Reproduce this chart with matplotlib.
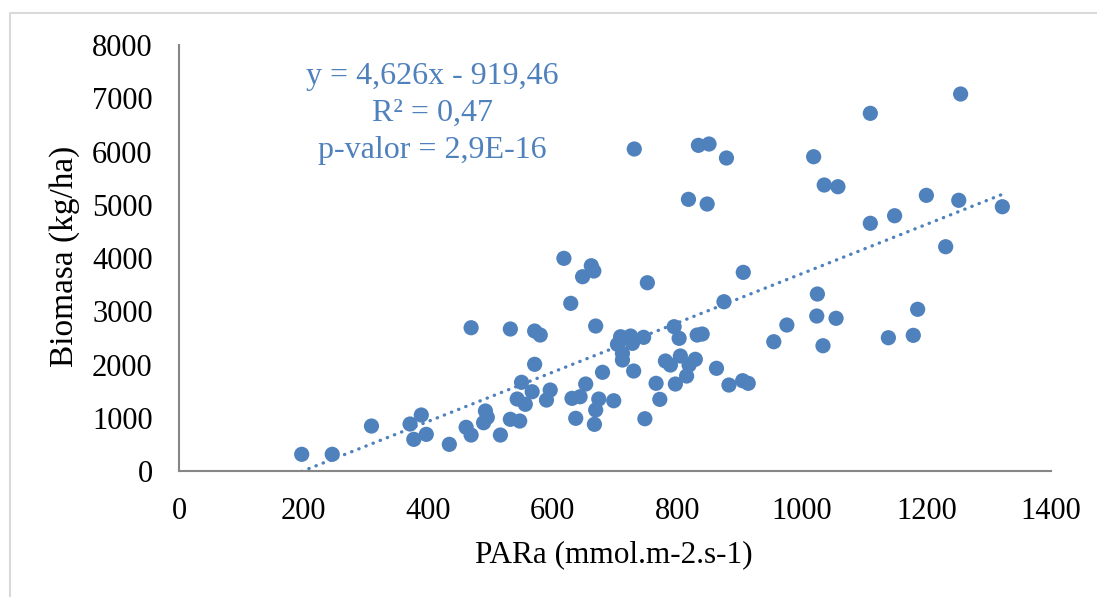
import numpy as np
import matplotlib
matplotlib.use("Agg")
from matplotlib import pyplot as plt
from matplotlib.lines import Line2D

# PARa (mmol.m-2.s-1) and biomass (kg/ha) per plot
para = [197, 246, 309, 371, 389, 377, 397, 434, 461, 469,
        469, 492, 495, 489, 516, 532, 547, 532, 571, 580,
        571, 550, 567, 543, 556, 596, 590, 618, 629, 648,
        662, 666, 669, 680, 653, 631, 644, 674, 669, 637,
        667, 698, 752, 906, 875, 1231, 1025, 976, 955, 1024,
        1055, 1034, 1186, 1139, 1179, 709, 725, 704, 728, 712,
        712, 746, 795, 803, 832, 840, 730, 781, 789, 805,
        829, 819, 815, 797, 766, 772, 748, 863, 883, 905,
        914, 731, 834, 851, 879, 818, 848, 1110, 1255, 1019,
        1036, 1058, 1200, 1252, 1322, 1110, 1149]
biomasa = [314, 314, 845, 883, 1052, 595, 689, 501, 821, 676,
           2691, 1127, 1008, 907, 676, 971, 939, 2667, 2629, 2554,
           2004, 1666, 1489, 1352, 1253, 1521, 1333, 3994, 3149, 3649,
           3855, 3756, 2723, 1854, 1634, 1365, 1395, 1352, 1146, 990,
           877, 1320, 3536, 3731, 3179, 4212, 3324, 2742, 2428, 2911,
           2868, 2353, 3037, 2503, 2548, 2522, 2535, 2379, 2398, 2210,
           2085, 2511, 2710, 2492, 2554, 2573, 1878, 2066, 1991, 2160,
           2098, 1991, 1784, 1634, 1647, 1346, 982, 1929, 1615, 1696,
           1647, 6047, 6116, 6141, 5878, 5102, 5014, 6717, 7080, 5902,
           5371, 5339, 5177, 5084, 4963, 4652, 4794]

# linear trend reported for the data
slope = 4.626
intercept = -919.46

blue = "#4F81BD"
plt.rcParams["font.family"] = ["Liberation Serif", "DejaVu Serif"]

fig = plt.figure(figsize=(10.97, 5.97), dpi=100)
ax = fig.add_axes([0.1632, 0.211, 0.7948, 0.7136])

ax.scatter(para, biomasa, s=120, color=blue, edgecolors="none", zorder=3)

xs = np.array([min(para), max(para)])
ax.plot(xs, slope * xs + intercept, color=blue, lw=2.4,
        linestyle=(0, (0.1, 2.2)), dash_capstyle="round", zorder=2)

ax.set_xlim(0, 1400)
ax.set_ylim(0, 8000)
ax.set_xticks(range(0, 1401, 200))
ax.set_yticks(range(0, 8001, 1000))
ax.tick_params(length=0, labelsize=22, pad=19, colors="black")

for side in ["top", "right"]:
    ax.spines[side].set_visible(False)
for side in ["left", "bottom"]:
    ax.spines[side].set_color("#868686")
    ax.spines[side].set_linewidth(1.5)

fig.text(0.0593, 0.571, "Biomasa (kg/ha)", rotation=90, ha="center", va="center", fontsize=24)
fig.text(0.5597, 0.07, "PARa (mmol.m-2.s-1)", ha="center", va="center", fontsize=22.5)

ax.text(0.291, 0.925, "y = 4,626x - 919,46", transform=ax.transAxes,
        ha="center", va="center", fontsize=23, color=blue)
ax.text(0.291, 0.840, "R² = 0,47", transform=ax.transAxes,
        ha="center", va="center", fontsize=23, color=blue)
ax.text(0.291, 0.7535, "p-valor = 2,9E-16", transform=ax.transAxes,
        ha="center", va="center", fontsize=23, color=blue)

# light chart-area frame (left and top edges)
fig.lines.append(Line2D([0.0091, 0.0091, 1.0], [0.0, 0.978, 0.978],
                        transform=fig.transFigure, color="#D9D9D9", lw=1.5))

fig.savefig("out.png", dpi=100)
